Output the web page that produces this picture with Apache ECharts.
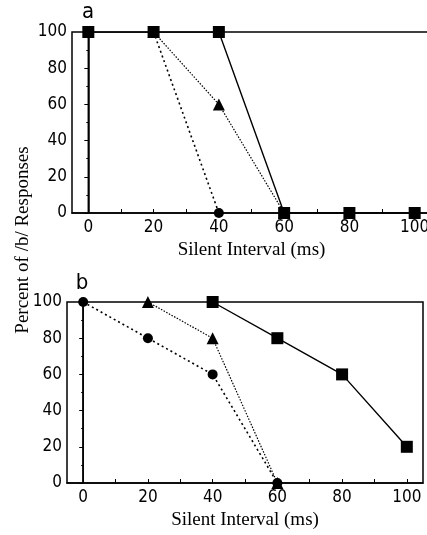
<!DOCTYPE html>
<html>
<head>
<meta charset="utf-8">
<script src="https://cdn.jsdelivr.net/npm/echarts@6/dist/echarts.min.js"></script>
<style>
  html, body { margin: 0; padding: 0; background: #fff; }
  #chart { width: 427px; height: 535px; }
</style>
</head>
<body>
<div id="chart"></div>
<script>
// silent interval values (ms)
const xValues = [0, 20, 40, 60, 80, 100];
const xLabels = [0, 20, 40, 60, 80, 100];
const xTicks = [0, 10, 20, 30, 40, 50, 60, 70, 80, 90, 100];

// panel a: percent of /b/ responses
const aSquare = [100, 100, 100, 0, 0, 0];
const aTriangle = [null, 100, 60, 0, null, null];
const aCircle = [null, 100, 0, null, null, null];

// panel b
const bSquare = [null, null, 100, 80, 60, 20];
const bTriangle = [null, 100, 80, 0, null, null];
const bCircle = [100, 80, 60, 0, null, null];

// vertical line drawn at 0 ms in both panels
const vertX = [0, 0];
const vertY = [0, 100];

const numFont = '"Liberation Sans Narrow", "DejaVu Sans Condensed", sans-serif';
const serifFont = '"Liberation Serif", "DejaVu Serif", serif';

function pairs(xs, ys) {
  return xs.map((x, i) => [x, ys[i]]);
}

function xAxisFor(idx) {
  return {
    type: "value",
    gridIndex: idx,
    min: -5,
    max: 105,
    name: "Silent Interval (ms)",
    nameLocation: "middle",
    nameGap: 28,
    nameTextStyle: { fontFamily: serifFont, fontSize: 19, color: "#000" },
    axisLine: { show: true, lineStyle: { color: "#000", width: 1.5 } },
    axisTick: {
      show: true,
      inside: true,
      length: 4,
      customValues: xTicks,
      lineStyle: { color: "#000", width: 1 },
    },
    axisLabel: {
      customValues: xLabels,
      margin: 6,
      fontFamily: numFont,
      fontSize: 17,
      color: "#000",
    },
    splitLine: { show: false },
  };
}

function yAxisFor(idx) {
  return {
    type: "value",
    gridIndex: idx,
    min: 0,
    max: 100,
    interval: 20,
    axisLine: { show: true, lineStyle: { color: "#000", width: 1.5 } },
    axisTick: { show: true, length: 4, lineStyle: { color: "#000", width: 1 } },
    minorTick: { show: true, splitNumber: 2, length: 2, lineStyle: { color: "#000" } },
    axisLabel: { margin: 5, fontFamily: numFont, fontSize: 17, color: "#000" },
    splitLine: { show: false },
  };
}

function lineSeries(idx, ys, symbol, size, dash, width) {
  return {
    type: "line",
    xAxisIndex: idx,
    yAxisIndex: idx,
    data: pairs(xValues, ys),
    symbol: symbol,
    symbolSize: size,
    showSymbol: true,
    connectNulls: false,
    itemStyle: { color: "#000" },
    lineStyle: { color: "#000", width: width, type: dash },
    silent: true,
    animation: false,
  };
}

function vertSeries(idx) {
  return {
    type: "line",
    xAxisIndex: idx,
    yAxisIndex: idx,
    data: pairs(vertX, vertY),
    symbol: "none",
    lineStyle: { color: "#000", width: 1.5 },
    animation: false,
  };
}

const chart = echarts.init(document.getElementById("chart"));

const option = {
  backgroundColor: "#fff",
  animation: false,
  grid: [
    { left: 72, top: 32, width: 359, height: 181, show: true, borderColor: "#000", borderWidth: 1.5, outerBoundsMode: "none" },
    { left: 67, top: 302, width: 356, height: 181, show: true, borderColor: "#000", borderWidth: 1.5, outerBoundsMode: "none" },
  ],
  xAxis: [xAxisFor(0), xAxisFor(1)],
  yAxis: [yAxisFor(0), yAxisFor(1)],
  graphic: [
    {
      type: "text",
      x: 23,
      y: 240,
      rotation: Math.PI / 2,
      style: {
        text: "Percent of /b/ Responses",
        font: "19px " + serifFont,
        fill: "#000",
        align: "center",
        verticalAlign: "middle",
      },
    },
    {
      type: "text",
      x: 88,
      y: 12,
      style: { text: "a", font: "22px " + numFont, fill: "#000", align: "center", verticalAlign: "middle" },
    },
    {
      type: "text",
      x: 82,
      y: 283,
      style: { text: "b", font: "22px " + numFont, fill: "#000", align: "center", verticalAlign: "middle" },
    },
  ],
  series: [
    vertSeries(0),
    lineSeries(0, aCircle, "circle", 10, [2, 3], 1.6),
    lineSeries(0, aTriangle, "triangle", 12, [1.5, 1.5], 1.2),
    lineSeries(0, aSquare, "rect", 12, "solid", 1.4),
    vertSeries(1),
    lineSeries(1, bCircle, "circle", 10, [2, 3], 1.6),
    lineSeries(1, bTriangle, "triangle", 12, [1.5, 1.5], 1.2),
    lineSeries(1, bSquare, "rect", 12, "solid", 1.4),
  ],
};

chart.setOption(option);
</script>
</body>
</html>
